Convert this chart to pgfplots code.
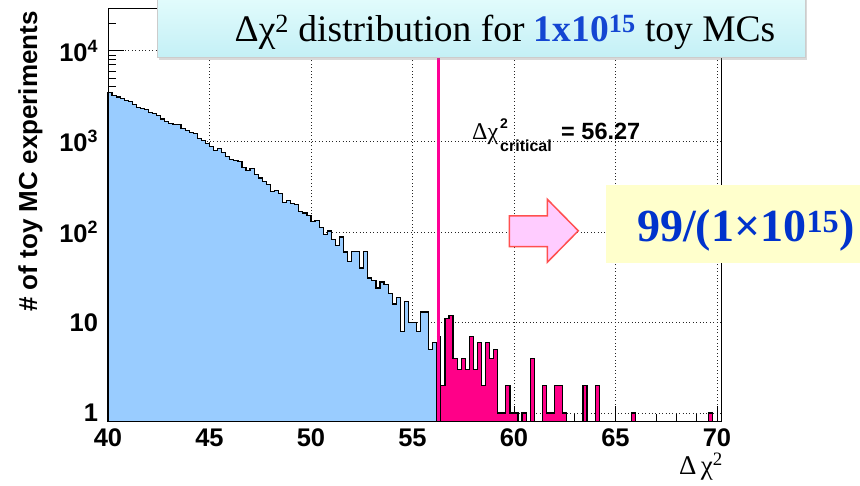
\documentclass[border=0pt]{standalone}
\usepackage{pgfplots}
\pgfplotsset{compat=1.18}
\usepackage{fontspec}
\setmainfont{Liberation Serif}
\setsansfont{Liberation Sans}
\usetikzlibrary{shadows}

\definecolor{histblue}{RGB}{153,204,255}
\definecolor{histpink}{RGB}{255,0,136}
\definecolor{cutline}{RGB}{255,0,150}
\definecolor{boxcyanA}{RGB}{230,253,253}
\definecolor{boxcyanB}{RGB}{196,240,246}
\definecolor{boxyellow}{RGB}{255,255,204}
\definecolor{numblue}{RGB}{0,51,204}
\definecolor{titleblue}{RGB}{20,70,210}
\definecolor{arrowfill}{RGB}{255,204,255}
\definecolor{arrowline}{RGB}{255,80,80}

\begin{document}
\begin{tikzpicture}
\path[use as bounding box] (0pt,0pt) rectangle (860pt,-486pt);

\begin{axis}[
  name=main,
  at={(108pt,-421.7pt)}, anchor=south west,
  scale only axis, width=613pt, height=413.4pt,
  xmin=40, xmax=70.2,
  ymode=log, ymin=0.8, ymax=29500,
  xtick={40,45,50,55,60,65,70},
  xticklabels={40,45,50,55,60,65,70},
  minor x tick num=4,
  ytick={1,10,100,1000,10000},
  yticklabels={1,10,10\textsuperscript{2},10\textsuperscript{3},10\textsuperscript{4}},
  minor ytick={2,3,4,5,6,7,8,9,20,30,40,50,60,70,80,90,200,300,400,500,600,700,800,900,2000,3000,4000,5000,6000,7000,8000,9000,20000},
  tick pos=left, tick align=inside,
  major tick length=16pt, minor tick length=8pt,
  tick style={black, line width=0.8pt},
  grid=major,
  major grid style={black!85, line width=0.7pt, dash pattern=on 0.8pt off 2.6pt},
  xticklabel style={font=\sffamily\bfseries\fontsize{25.5}{25.5}\selectfont, inner sep=0pt, anchor=north, yshift=-7pt},
  yticklabel style={font=\sffamily\bfseries\fontsize{25.5}{25.5}\selectfont, inner sep=0pt, anchor=east, xshift=-9.7pt},
  axis line style={black, line width=1pt},
  clip=false,
]
% all experiments below the critical value (0.2 wide bins)
\addplot[const plot mark left, fill=histblue, draw=black, line width=1.2pt] coordinates {
 (40,0.8)
 (40.0,3491) (40.2,3236) (40.4,3090) (40.6,2972) (40.8,2818) (41.0,2754) (41.2,2553) (41.4,2360)
 (41.6,2301) (41.8,2228) (42.0,2089) (42.2,2042) (42.4,1928) (42.6,1770) (42.8,1667) (43.0,1560)
 (43.2,1545) (43.4,1532) (43.6,1374) (43.8,1315) (44.0,1259) (44.2,1219) (44.4,1081) (44.6,1021)
 (44.8,938) (45.0,883) (45.2,794) (45.4,826) (45.6,759) (45.8,684) (46.0,631) (46.2,614)
 (46.4,598) (46.6,518) (46.8,480) (47.0,505) (47.2,430) (47.4,394) (47.6,362) (47.8,333)
 (48.0,277) (48.2,288) (48.4,263) (48.6,209) (48.8,222) (49.0,205) (49.2,200) (49.4,169)
 (49.6,162) (49.8,151) (50.0,131) (50.2,134) (50.4,111) (50.6,93) (50.8,102) (51.0,82)
 (51.2,71) (51.4,88) (51.6,60) (51.8,47) (52.0,61) (52.2,61) (52.4,40) (52.6,61)
 (52.8,31) (53.0,29) (53.2,24) (53.4,28) (53.6,26) (53.8,21) (54.0,16) (54.2,19)
 (54.4,8) (54.6,17) (54.8,10) (55.0,10) (55.2,8) (55.4,13) (55.6,13) (55.8,5)
 (56.0,6) (56.2,6) (56.2,0.8)
} -- cycle;
% experiments above the critical value; empty bins sit on the axis floor
\addplot[const plot mark left, fill=histpink, draw=black, line width=1.2pt] coordinates {
 (56.4,0.8)
 (56.4,2) (56.6,11) (56.8,12) (57.0,4) (57.2,3) (57.4,4) (57.6,3) (57.8,7)
 (58.0,3) (58.2,6) (58.4,2) (58.6,6) (58.8,4) (59.0,5) (59.2,1) (59.4,1)
 (59.6,2) (59.8,1) (60.0,1) (60.2,0.8) (60.4,1) (60.6,0.8) (60.8,4) (61.0,0.8)
 (61.2,0.8) (61.4,2) (61.6,1) (61.8,1) (62.0,2) (62.2,2) (62.4,1) (62.6,0.8)
 (63.4,2) (63.6,0.8) (64.0,2) (64.2,0.8) (65.8,1) (66.0,0.8) (69.6,1) (69.8,0.8)
 (70.2,0.8)
} -- cycle;
% bin straddling the cut
\addplot[const plot mark left, draw=black, line width=1.2pt] coordinates {
 (56.2,7) (56.4,7) (56.4,0.8)
};
% critical value
\addplot[cutline, line width=3pt] coordinates {(56.27,0.8) (56.27,29500)};
\end{axis}
\draw[black, line width=1pt] (main.south west) rectangle (main.north east);

% axis titles
\node[rotate=90, anchor=base east, inner sep=0pt,
      font=\sffamily\bfseries\fontsize{26}{26}\selectfont] at (37pt,-11pt) {\# of toy MC experiments};
\node[anchor=base east, inner sep=0pt, font=\fontsize{27}{27}\selectfont] at (723pt,-475pt)
  {Δ\,χ\textsuperscript{2}};

% critical value label
\node[anchor=base west, inner sep=0pt, font=\fontsize{24}{24}\selectfont] at (472pt,-140pt) {Δχ};
\node[anchor=base west, inner sep=0pt, font=\sffamily\bfseries\fontsize{14}{14}\selectfont] at (500pt,-128.3pt) {2};
\node[anchor=base west, inner sep=0pt, font=\sffamily\bfseries\fontsize{16}{16}\selectfont] at (500pt,-151.7pt) {critical};
\node[anchor=base west, inner sep=0pt, font=\sffamily\bfseries\fontsize{23.5}{23.5}\selectfont] at (561pt,-139.3pt) {= 56.27};

% arrow
\draw[arrowline, fill=arrowfill, line width=1.5pt, line join=miter]
  (509.3pt,-216pt) -- (547.3pt,-216pt) -- (547.3pt,-199.3pt) -- (578.3pt,-230.8pt)
  -- (547.3pt,-262.3pt) -- (547.3pt,-246.7pt) -- (509.3pt,-246.7pt) -- cycle;

% result box
\fill[boxyellow] (606pt,-185pt) rectangle (880pt,-262.7pt);
\node[anchor=base west, inner sep=0pt, text=numblue,
      font=\bfseries\fontsize{46}{46}\selectfont] at (637pt,-241.7pt) {99/(1×10\textsuperscript{15})};

% title box
\path[draw=gray!40, line width=0.6pt, top color=boxcyanA, bottom color=boxcyanB,
      drop shadow={opacity=0.3, shadow xshift=1.5pt, shadow yshift=-2.5pt}]
  (157pt,10pt) rectangle (805pt,-57.3pt);
\node[anchor=base, inner sep=0pt, font=\fontsize{37.5}{37.5}\selectfont] at (505pt,-41.7pt)
  {Δχ\textsuperscript{2} distribution for {\color{titleblue}\bfseries 1x10\textsuperscript{15}} toy MCs};
\end{tikzpicture}
\end{document}
